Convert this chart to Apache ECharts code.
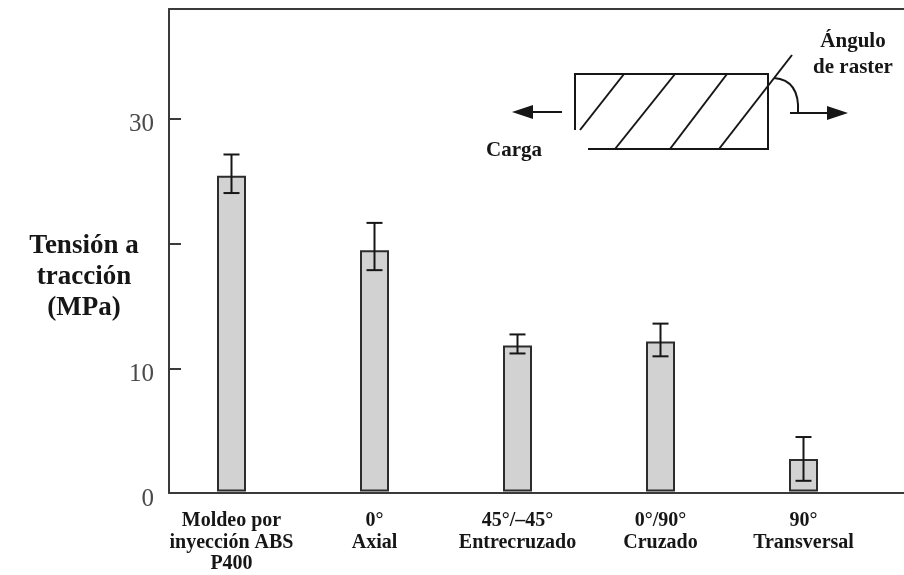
<!DOCTYPE html>
<html>
<head>
<meta charset="utf-8">
<script src="https://cdn.jsdelivr.net/npm/echarts@6/dist/echarts.min.js"></script>
<style>html,body{margin:0;padding:0;background:#fff}#c{width:904px;height:575px}</style>
</head>
<body>
<div id="c"></div>
<script>
const categories = ['Moldeo por\ninyección ABS\nP400', '0°\nAxial', '45°/–45°\nEntrecruzado', '0°/90°\nCruzado', '90°\nTransversal'];
const tensileValues = [25.4, 19.4, 11.75, 12.07, 2.62];
const errorHigh = [27.1, 21.6, 12.63, 13.5, 4.38];
const errorLow = [24.0, 17.8, 11.1, 10.87, 0.86];
const yTickLabels = [0, 10, 30];
const yAxisName = 'Tensión a\ntracción\n(MPa)';

const chart = echarts.init(document.getElementById('c'), null, {renderer: 'canvas'});
const serif = '"Liberation Serif", "DejaVu Serif", serif';
const ink = '#161616';
const axisColor = '#3a3a3a';
const Y_MAX = 38.8;
const gridTop = 9, gridBottom = 82;

const errData = categories.map((c, i) => [i, errorLow[i], errorHigh[i]]);

const option = {
  backgroundColor: '#fff',
  animation: false,
  grid: [
    {left: 169, right: 0, top: gridTop, bottom: gridBottom},
    {left: 160, right: 29, top: gridTop, bottom: gridBottom}
  ],
  xAxis: [
    {gridIndex: 0, type: 'value', min: 0, max: 1, position: 'bottom',
     axisLine: {show: true, lineStyle: {color: axisColor, width: 2}},
     axisTick: {show: false}, axisLabel: {show: false}, splitLine: {show: false}},
    {gridIndex: 0, type: 'value', min: 0, max: 1, position: 'top',
     axisLine: {show: true, lineStyle: {color: axisColor, width: 2}},
     axisTick: {show: false}, axisLabel: {show: false}, splitLine: {show: false}},
    {gridIndex: 1, type: 'category', data: categories,
     axisLine: {show: false}, axisTick: {show: false}, splitLine: {show: false},
     axisLabel: {interval: 0, margin: 19, color: ink, fontFamily: serif, fontWeight: 'bold',
                 fontSize: 20, lineHeight: 21.5, align: 'center'}}
  ],
  yAxis: [
    {gridIndex: 0, type: 'value', min: 0, max: Y_MAX, interval: 10,
     axisLine: {show: true, lineStyle: {color: axisColor, width: 2}},
     axisTick: {show: true, inside: true, length: 12, lineStyle: {color: axisColor, width: 2}},
     splitLine: {show: false},
     axisLabel: {margin: 15, color: '#4a4a4a', fontFamily: serif, fontSize: 25,
                 verticalAlign: 'top', lineHeight: 12,
                 showMaxLabel: false,
                 formatter: v => yTickLabels.indexOf(v) >= 0 ? String(v) : ''}},
    {gridIndex: 1, type: 'value', min: 0, max: Y_MAX, show: false}
  ],
  series: [
    {type: 'bar', xAxisIndex: 2, yAxisIndex: 1, data: tensileValues, barWidth: 29,
     itemStyle: {color: '#d2d2d2', borderColor: '#2c2c2c', borderWidth: 2}},
    {type: 'custom', xAxisIndex: 2, yAxisIndex: 1, data: errData, z: 5,
     renderItem: function (params, api) {
       const x = api.value(0);
       const lo = api.coord([x, api.value(1)]);
       const hi = api.coord([x, api.value(2)]);
       const hw = 8;
       const st = {stroke: ink, lineWidth: 2};
       return {type: 'group', children: [
         {type: 'line', shape: {x1: hi[0], y1: hi[1], x2: lo[0], y2: lo[1]}, style: st},
         {type: 'line', shape: {x1: hi[0] - hw, y1: hi[1], x2: hi[0] + hw, y2: hi[1]}, style: st},
         {type: 'line', shape: {x1: lo[0] - hw, y1: lo[1], x2: lo[0] + hw, y2: lo[1]}, style: st}
       ]};
     }}
  ],
  graphic: [
    {type: 'text', position: [84, 277], style: {text: yAxisName, x: 0, y: 0, align: 'center', verticalAlign: 'middle',
      font: 'bold 27px ' + serif, lineHeight: 31, fill: ink}},
    // specimen diagram
    {type: 'polyline', shape: {points: [[575, 130], [575, 74], [768, 74], [768, 149], [588, 149]]},
     style: {stroke: ink, lineWidth: 2, fill: null}},
    {type: 'line', shape: {x1: 580, y1: 130, x2: 624, y2: 74}, style: {stroke: ink, lineWidth: 2}},
    {type: 'line', shape: {x1: 615, y1: 149, x2: 675, y2: 74}, style: {stroke: ink, lineWidth: 2}},
    {type: 'line', shape: {x1: 670, y1: 149, x2: 727, y2: 74}, style: {stroke: ink, lineWidth: 2}},
    {type: 'line', shape: {x1: 719, y1: 149, x2: 792, y2: 55}, style: {stroke: ink, lineWidth: 2}},
    {type: 'bezierCurve', shape: {x1: 774, y1: 78, cpx1: 800, cpy1: 80, x2: 798, y2: 113},
     style: {stroke: ink, lineWidth: 2, fill: null}},
    {type: 'line', shape: {x1: 790, y1: 113, x2: 830, y2: 113}, style: {stroke: ink, lineWidth: 2}},
    {type: 'polygon', shape: {points: [[827, 106], [848, 113], [827, 120]]}, style: {fill: ink}},
    {type: 'line', shape: {x1: 530, y1: 112, x2: 562, y2: 112}, style: {stroke: ink, lineWidth: 2}},
    {type: 'polygon', shape: {points: [[533, 105], [512, 112], [533, 119]]}, style: {fill: ink}},
    {type: 'text', position: [514, 151], style: {text: 'Carga', x: 0, y: 0, align: 'center', verticalAlign: 'middle',
      font: 'bold 21px ' + serif, fill: ink}},
    {type: 'text', position: [853, 55], style: {text: 'Ángulo\nde raster', x: 0, y: 0, align: 'center', verticalAlign: 'middle',
      font: 'bold 21px ' + serif, lineHeight: 26, fill: ink}}
  ]
};
chart.setOption(option);
</script>
</body>
</html>
